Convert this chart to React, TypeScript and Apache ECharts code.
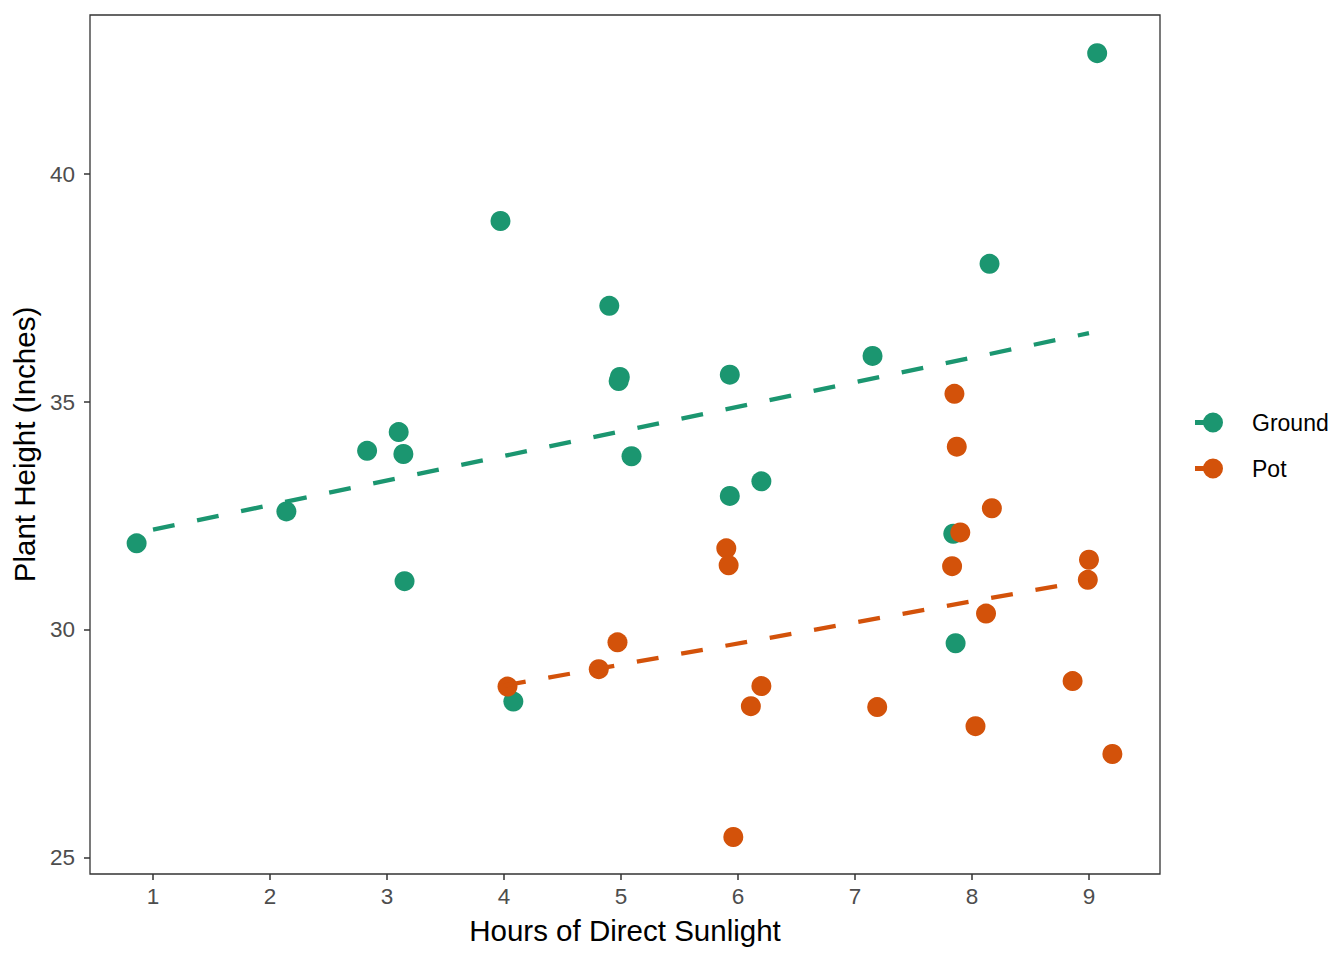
import React, { useEffect, useRef } from "react";
import * as echarts from "echarts";

// Observed (jittered) positions of the points
const groundX = [0.86, 2.14, 2.83, 3.10, 3.14, 3.15, 3.97, 4.08, 4.90, 4.99, 4.98, 5.09, 5.93, 5.93, 6.20, 7.15, 7.84, 7.86, 8.15, 9.07];
const groundY = [31.90, 32.60, 33.93, 34.34, 33.86, 31.07, 38.97, 28.43, 37.11, 35.55, 35.46, 33.81, 35.60, 32.94, 33.26, 36.01, 32.11, 29.71, 38.03, 42.65];

const potX = [4.03, 4.81, 4.97, 5.90, 5.92, 5.96, 6.11, 6.20, 7.19, 7.85, 7.87, 7.90, 7.83, 8.03, 8.12, 8.17, 8.86, 8.99, 9.00, 9.20];
const potY = [28.76, 29.14, 29.73, 31.79, 31.42, 25.46, 28.33, 28.77, 28.31, 35.18, 34.02, 32.14, 31.40, 27.89, 30.36, 32.67, 28.88, 31.10, 31.54, 27.28];

// Linear fit lines (endpoints)
const groundFitX = [1, 9];
const groundFitY = [32.2, 36.51];
const potFitX = [4, 9];
const potFitY = [28.78, 31.09];

// Axis ticks
const xTicks = [1, 2, 3, 4, 5, 6, 7, 8, 9];
const yTicks = [25, 30, 35, 40];

const groups = ["Ground", "Pot"];
const colors = ["#1B9670", "#D3520A"];

const FONT = "'Liberation Sans', Arial, Helvetica, sans-serif";
const LEGEND_ICON =
  "path://M0,7.5 L9,7.5 L9,12.5 L0,12.5 Z M8,10 A10,10 0 1,1 28,10 A10,10 0 1,1 8,10 Z";

const zip = (xs: number[], ys: number[]) => xs.map((x, i) => [x, ys[i]]);

export default function App() {
  const ref = useRef<HTMLDivElement>(null);
  useEffect(() => {
    if (!ref.current) return;
    const chart = echarts.init(ref.current, undefined, { renderer: "svg" });
    const pointSets = [zip(groundX, groundY), zip(potX, potY)];
    const fitSets = [zip(groundFitX, groundFitY), zip(potFitX, potFitY)];
    chart.setOption({
      animation: false,
      backgroundColor: "#ffffff",
      textStyle: { fontFamily: FONT },
      grid: {
        left: 90,
        right: 184,
        top: 15,
        bottom: 86,
        show: true,
        borderColor: "#333333",
        borderWidth: 1.3,
        backgroundColor: "transparent",
      },
      legend: {
        orient: "vertical",
        left: 1195,
        top: 411,
        itemWidth: 28,
        itemHeight: 20,
        itemGap: 23,
        padding: 0,
        selectedMode: false,
        data: groups.map((g) => ({ name: g, icon: LEGEND_ICON })),
        textStyle: {
          fontFamily: FONT,
          fontSize: 23,
          color: "#000000",
          padding: [0, 0, 0, 24],
        },
      },
      xAxis: {
        type: "value",
        min: 0.4615,
        max: 9.607,
        name: "Hours of Direct Sunlight",
        nameLocation: "middle",
        nameGap: 41,
        nameTextStyle: { fontFamily: FONT, fontSize: 29.5, color: "#000000" },
        axisLine: { show: false },
        splitLine: { show: false },
        axisTick: {
          show: true,
          length: 6,
          customValues: xTicks,
          lineStyle: { color: "#333333", width: 1.5 },
        },
        axisLabel: {
          customValues: xTicks,
          fontFamily: FONT,
          fontSize: 22.5,
          color: "#4D4D4D",
          margin: 11,
        },
      },
      yAxis: {
        type: "value",
        min: 24.649,
        max: 43.487,
        name: "Plant Height (Inches)",
        nameLocation: "middle",
        nameRotate: 90,
        nameGap: 47,
        nameTextStyle: { fontFamily: FONT, fontSize: 29.5, color: "#000000" },
        axisLine: { show: false },
        splitLine: { show: false },
        axisTick: {
          show: true,
          length: 6,
          customValues: yTicks,
          lineStyle: { color: "#333333", width: 1.5 },
        },
        axisLabel: {
          customValues: yTicks,
          fontFamily: FONT,
          fontSize: 22.5,
          color: "#4D4D4D",
          margin: 15,
        },
      },
      series: [
        ...groups.map((g, i) => ({
          name: g,
          type: "scatter",
          data: pointSets[i],
          symbol: "circle",
          symbolSize: 20,
          itemStyle: { color: colors[i], opacity: 1 },
          z: 2,
          silent: true,
        })),
        ...groups.map((g, i) => ({
          name: g + " fit",
          type: "line",
          data: fitSets[i],
          showSymbol: false,
          symbol: "none",
          lineStyle: { color: colors[i], width: 4.3, type: [22, 23], cap: "butt" },
          itemStyle: { color: colors[i] },
          z: 3,
          silent: true,
        })),
      ],
    });
    return () => chart.dispose();
  }, []);
  return (
    <div
      ref={ref}
      style={{ position: "fixed", left: 0, top: 0, width: 1344, height: 960 }}
    />
  );
}
